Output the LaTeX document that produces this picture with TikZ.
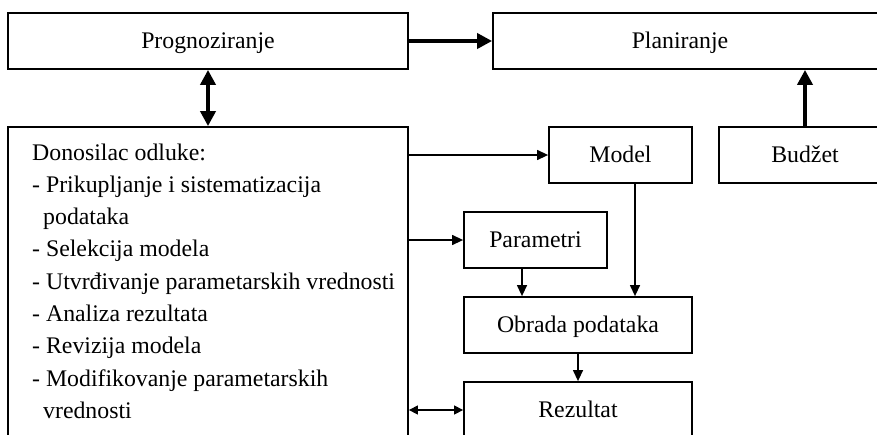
\documentclass[tikz,border=0pt]{standalone}
\usepackage{fontspec}
\setmainfont{Liberation Serif}
\usetikzlibrary{arrows.meta}
\begin{document}
\begin{tikzpicture}[x=1pt,y=-1pt,
  font=\fontsize{23.8}{32.3}\selectfont,
  box/.style={draw, line width=1.8pt, rectangle, inner sep=0pt,
    text height=15.8pt, text depth=0pt},
  thin/.style={line width=1.3pt, -{Triangle[length=11pt,width=10pt]}},
  thinboth/.style={line width=1.3pt, {Triangle[length=9pt,width=9pt]}-{Triangle[length=9pt,width=9pt]}},
  thick/.style={line width=4pt, -{Triangle[length=15pt,width=15pt]}},
  thickboth/.style={line width=4pt, {Triangle[length=15pt,width=15pt]}-{Triangle[length=15pt,width=15pt]}}
]
\useasboundingbox (0,0) rectangle (877,434);
\clip (0,0) rectangle (877,434);

% boxes
\node[box, minimum width=400pt, minimum height=56pt] (prog) at (208,41) {Prognoziranje};
\node[box, minimum width=412pt, minimum height=56pt] (plan) at (699,41) {};
\node (plantext) at (680,41) [text height=15.8pt, text depth=0pt, inner sep=0pt] {Planiranje};
\node[box, minimum width=400pt, minimum height=333pt] (dm) at (208,293.5) {};
% the base anchor of a multi-line node sits on its last line
\node[anchor=base west, inner sep=0pt, align=left] (dmtext) at (32,418.4) {%
  Donosilac odluke:\\
  - Prikupljanje i sistematizacija\\
  \hspace*{11pt}podataka\\
  - Selekcija modela\\
  - Utvrđivanje parametarskih vrednosti\\
  - Analiza rezultata\\
  - Revizija modela\\
  - Modifikovanje parametarskih\\
  \hspace*{11pt}vrednosti};
\node[box, minimum width=143pt, minimum height=56pt] (model) at (620.5,155) {Model};
\node[box, minimum width=172pt, minimum height=56pt] (bud) at (805,155) {Budžet};
\node[box, minimum width=143pt, minimum height=56pt] (par) at (535.5,240) {Parametri};
\node[box, minimum width=228pt, minimum height=56pt] (obr) at (578,325) {Obrada podataka};
\node[box, minimum width=228pt, minimum height=56pt] (rez) at (578,410) {Rezultat};

% connector columns
\coordinate (cp) at (522,0);
\coordinate (cm) at (635,0);

% connectors
\draw[thick] (prog.east) -- (plan.west);
\draw[thickboth] (prog.south) -- (dm.north -| prog.south);
\draw[thick] (bud.north) -- (plan.south -| bud.north);
\draw[thin] (dm.east |- model.west) -- (model.west);
\draw[thin] (dm.east |- par.west) -- (par.west);
\draw[thin] (par.south -| cp) -- (obr.north -| cp);
\draw[thin] (model.south -| cm) -- (obr.north -| cm);
\draw[thin] (obr.south) -- (rez.north);
\draw[thinboth] (dm.east |- rez.center) -- (rez.west);
\end{tikzpicture}
\end{document}
